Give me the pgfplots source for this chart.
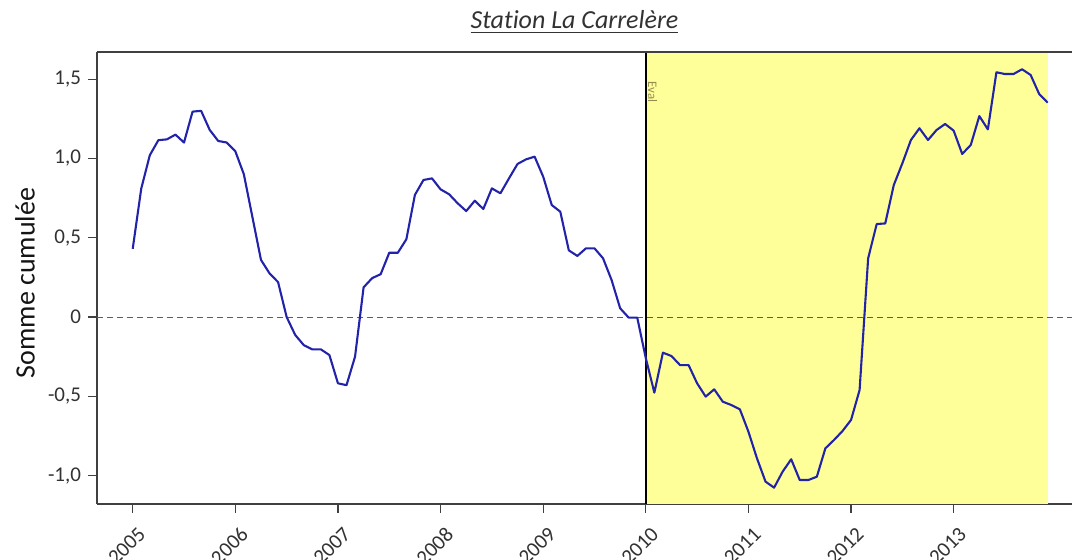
\documentclass[border=0pt]{standalone}
\usepackage{fontspec}
\setmainfont{Carlito}[Ligatures=NoCommon]
\usepackage{pgfplots}
\usepackage{pgfplotstable}
\pgfplotsset{compat=1.18}
\definecolor{linecol}{RGB}{35,35,170}
\definecolor{evalfill}{RGB}{255,255,153}
\definecolor{spine}{RGB}{64,64,64}
\definecolor{txt}{RGB}{50,50,50}
\pgfplotstableread{
i y
0 0.43
1 0.81
2 1.02
3 1.115
4 1.12
5 1.15
6 1.10
7 1.295
8 1.30
9 1.18
10 1.11
11 1.10
12 1.045
13 0.90
14 0.63
15 0.36
16 0.275
17 0.22
18 0.00
19 -0.113
20 -0.177
21 -0.204
22 -0.204
23 -0.24
24 -0.418
25 -0.43
26 -0.25
27 0.187
28 0.245
29 0.27
30 0.405
31 0.405
32 0.49
33 0.77
34 0.864
35 0.874
36 0.805
37 0.774
38 0.717
39 0.668
40 0.733
41 0.681
42 0.811
43 0.78
44 0.874
45 0.965
46 0.994
47 1.011
48 0.885
49 0.706
50 0.664
51 0.42
52 0.385
53 0.433
54 0.433
55 0.37
56 0.233
57 0.055
58 -0.004
59 -0.004
60 -0.26
61 -0.477
62 -0.225
63 -0.246
64 -0.303
65 -0.303
66 -0.418
67 -0.502
68 -0.456
69 -0.534
70 -0.555
71 -0.582
72 -0.723
73 -0.891
74 -1.038
75 -1.076
76 -0.975
77 -0.897
78 -1.028
79 -1.028
80 -1.007
81 -0.828
82 -0.776
83 -0.719
84 -0.649
85 -0.46
86 0.37
87 0.586
88 0.59
89 0.832
90 0.969
91 1.116
92 1.19
93 1.116
94 1.179
95 1.217
96 1.175
97 1.028
98 1.085
99 1.267
100 1.183
101 1.543
102 1.532
103 1.532
104 1.562
105 1.526
106 1.406
107 1.351
}\cusum
\begin{document}
\begin{tikzpicture}
\useasboundingbox (-48.5pt,-28pt) rectangle (487.5pt,252pt);
\begin{axis}[
  scale only axis,
  width=487.5pt, height=226pt,
  xmin=2004.652, xmax=2014.153,
  ymin=-1.179, ymax=1.671,
  axis x line*=bottom, axis y line*=left,
  axis line style={spine, line width=0.7pt},
  every outer x axis line/.append style={-},
  every outer y axis line/.append style={-},
  tick align=outside,
  major tick length=4.5pt,
  tick style={spine, line width=0.6pt},
  xtick={2005,2006,2007,2008,2009,2010,2011,2012,2013},
  xticklabels={2005,2006,2007,2008,2009,2010,2011,2012,2013},
  ytick={-1,-0.5,0,0.5,1,1.5},
  yticklabels={{-1,0},{-0,5},0,{0,5},{1,0},{1,5}},
  ticklabel style={font=\fontsize{10.5}{12}\selectfont, text=txt},
  xticklabel style={xshift=-3pt, yshift=-16.5pt, rotate=45, anchor=center},
  yticklabel style={anchor=east},
  clip=false,
]
\addplot[draw=none, fill=evalfill] coordinates {(2010,-1.179) (2013.917,-1.179) (2013.917,1.671) (2010,1.671)} -- cycle;
\addplot[black, line width=1.1pt] coordinates {(2010,-1.179) (2010,1.671)};
\addplot[spine!85, dashed, dash pattern=on 3pt off 2pt, line width=0.5pt] coordinates {(2004.652,0) (2014.153,0)};
\addplot[linecol, line width=1.05pt, line join=round] table[x expr=2005+\thisrow{i}/12, y=y] {\cusum};
\node[rotate=-90, font=\fontsize{6.5}{7}\selectfont, text={rgb,255:red,150;green,140;blue,80}] at (axis cs:2010.066,1.42) {Eval};
\draw[spine, line width=0.7pt] (rel axis cs:0,1) -- (rel axis cs:1,1);
\end{axis}
\node[font=\fontsize{13}{15}\selectfont\itshape, text=txt] at (238.75pt,241pt) {\underline{Station La Carrelère}};
\node[rotate=90, font=\fontsize{14}{16}\selectfont, text={rgb,255:red,20;green,20;blue,20}] at (-36pt,110.5pt) {Somme cumulée};
\end{tikzpicture}
\end{document}
